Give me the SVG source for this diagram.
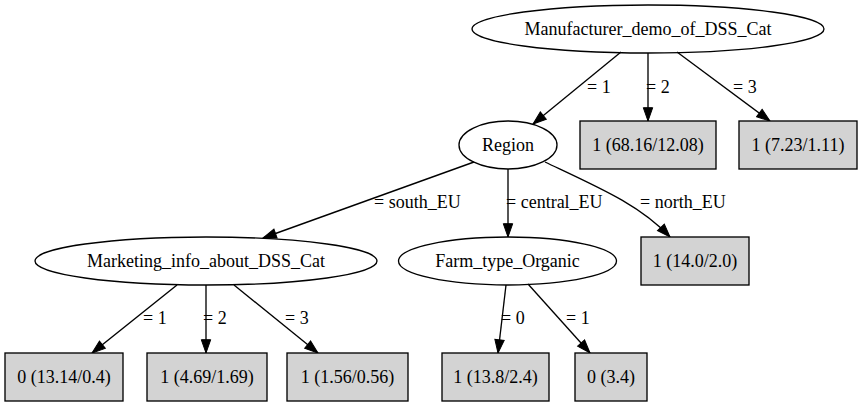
<svg xmlns="http://www.w3.org/2000/svg" width="863" height="407" viewBox="0 0 863 407" font-family="'Liberation Serif', 'Times New Roman', Times, serif">
<style>
text{font-family:'Liberation Serif','Times New Roman',Times,serif;font-size:18px;fill:#000}
.n{text-anchor:middle}
.e{fill:none;stroke:#000;stroke-width:1.33}
.b{fill:#d3d3d3;stroke:#000;stroke-width:1.33}
.c{fill:none;stroke:#000;stroke-width:1.33;marker-end:url(#ah)}
</style>
<defs>
<marker id="ah" markerUnits="userSpaceOnUse" markerWidth="16" markerHeight="12" viewBox="0 -6 14 12" refX="13.3" refY="0" orient="auto">
<path d="M0,-4.7 L13.3,0 L0,4.7 Z" fill="#000" stroke="#000" stroke-width="1"/>
</marker>
</defs>
<rect width="863" height="407" fill="#fff"/>
<g id="connectors">
<path class="c" d="M621,52 L533,124"/>
<path class="c" d="M648,53 L648,121"/>
<path class="c" d="M677,52 L770,121"/>
<path class="c" d="M474,162 L263,238"/>
<path class="c" d="M508,169 L508,237"/>
<path class="c" d="M545,162 C600,188 640,205 670,237"/>
<path class="c" d="M177,285 L92,353"/>
<path class="c" d="M206,285 L206,353"/>
<path class="c" d="M234,285 L318,353"/>
<path class="c" d="M506,285 L498,353"/>
<path class="c" d="M528,284 L590,353"/>
<text x="587" y="93">= 1</text>
<text x="646" y="93">= 2</text>
<text x="733" y="93">= 3</text>
<text x="374" y="208">= south_EU</text>
<text x="506" y="208">= central_EU</text>
<text x="640" y="208">= north_EU</text>
<text x="143" y="324">= 1</text>
<text x="203" y="324">= 2</text>
<text x="285" y="324">= 3</text>
<text x="501" y="324">= 0</text>
<text x="566" y="324">= 1</text>
</g>
<g id="root"><ellipse class="e" cx="648" cy="29" rx="176" ry="24"/><text class="n" x="648" y="35">Manufacturer_demo_of_DSS_Cat</text></g>
<g id="region"><ellipse class="e" cx="508" cy="145" rx="49" ry="24"/><text class="n" x="508" y="151">Region</text></g>
<g id="leaf_68"><rect class="b" x="580" y="121" width="136" height="48"/><text class="n" x="648" y="151">1 (68.16/12.08)</text></g>
<g id="leaf_7"><rect class="b" x="739" y="121" width="118" height="48"/><text class="n" x="798" y="151">1 (7.23/1.11)</text></g>
<g id="marketing"><ellipse class="e" cx="206" cy="261" rx="171" ry="24"/><text class="n" x="206" y="267">Marketing_info_about_DSS_Cat</text></g>
<g id="farm"><ellipse class="e" cx="507.5" cy="261" rx="109" ry="24"/><text class="n" x="507.5" y="267">Farm_type_Organic</text></g>
<g id="leaf_north"><rect class="b" x="641" y="237" width="108" height="48"/><text class="n" x="695" y="267">1 (14.0/2.0)</text></g>
<g id="leaf_13"><rect class="b" x="5" y="353" width="118" height="48"/><text class="n" x="64" y="383">0 (13.14/0.4)</text></g>
<g id="leaf_4"><rect class="b" x="147" y="353" width="120" height="48"/><text class="n" x="207" y="383">1 (4.69/1.69)</text></g>
<g id="leaf_1"><rect class="b" x="287" y="353" width="121" height="48"/><text class="n" x="347.5" y="383">1 (1.56/0.56)</text></g>
<g id="leaf_138"><rect class="b" x="442" y="353" width="107" height="48"/><text class="n" x="495.5" y="383">1 (13.8/2.4)</text></g>
<g id="leaf_3"><rect class="b" x="575" y="353" width="72" height="48"/><text class="n" x="611" y="383">0 (3.4)</text></g>
</svg>
